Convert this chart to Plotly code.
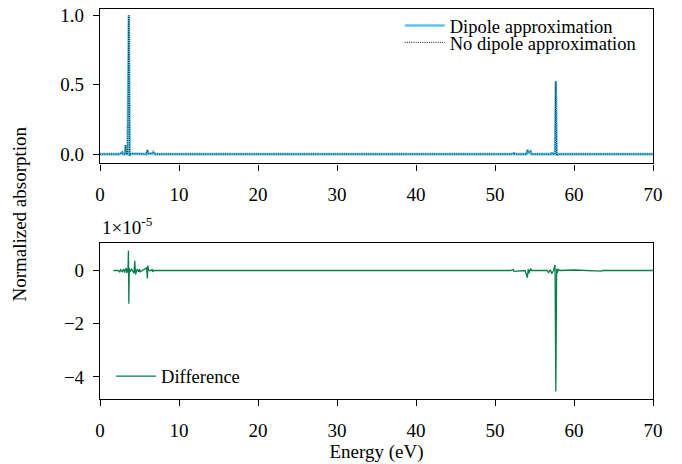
import plotly.graph_objects as go

# ---- data ----
energy_top = [0.0, 2.5, 2.8, 2.9, 3.15, 3.25, 3.35, 3.5, 3.65, 3.75, 3.85, 4.5, 5.0,
              5.9, 6.0, 6.1, 6.6, 6.75, 6.9, 52.3, 52.4, 52.5, 54.0, 54.1, 54.3,
              54.5, 54.6, 57.1, 57.2, 57.3, 57.6, 57.7, 57.8, 57.9, 70.0]
dipole = [0.0, 0.0, 0.015, 0.0, 0.0, 0.065, 0.0, 0.0, 1.0, -0.012, 0.004, 0.004, 0.002,
          0.0, 0.03, 0.004, 0.004, 0.015, 0.0, 0.0, 0.01, 0.0, 0.0, 0.03, 0.01,
          0.02, 0.0, 0.0, 0.01, 0.0, 0.0, 0.524, -0.01, 0.0, 0.0]
no_dipole = list(dipole)  # differs only at the 1e-5 level

energy_diff = [1.7, 2.3, 2.5, 2.6, 2.8, 3.0, 3.1, 3.3, 3.4, 3.55, 3.6, 3.65, 3.7, 3.8,
               4.0, 4.3, 4.4, 4.5, 4.7, 4.9, 5.0, 5.1, 5.9, 6.0, 6.05, 6.15, 6.5,
               6.6, 6.7, 6.8, 52.0, 52.3, 52.4, 53.8, 54.1, 54.2, 54.3, 54.5,
               54.6, 56.6, 56.8, 57.0, 57.2, 57.4, 57.6, 57.7, 57.8, 57.9, 58.0,
               58.2, 60.0, 63.5, 63.6, 70.0]
difference_1e5 = [0.0, 0.0, -0.05, 0.03, -0.04, 0.05, -0.08, 0.1, -0.1, 0.1, 0.75, -1.25,
                  0.1, -0.05, 0.05, -0.1, 0.37, -0.15, 0.05, -0.05, 0.05, -0.05, 0.1,
                  -0.3, 0.19, 0.0, 0.0, 0.05, -0.05, 0.0, 0.0, 0.04, -0.03, 0.0,
                  -0.27, 0.05, -0.1, 0.08, 0.0, 0.0, -0.08, 0.03, -0.12, 0.0, 0.21,
                  -4.55, 0.05, -0.1, 0.05, 0.0, 0.02, -0.02, 0.0, 0.0]

x_ticks = [0, 10, 20, 30, 40, 50, 60, 70]
top_ticks = [0.0, 0.5, 1.0]
top_tick_text = ["0.0", "0.5", "1.0"]
bottom_ticks = [0, -2, -4]

FONT = "Liberation Serif"
FS = 19
BLUE = "#5cc6f2"
GREEN = "#0a7d4c"

fig = go.Figure()
fig.add_trace(go.Scatter(x=energy_top, y=dipole, mode="lines", name="Dipole approximation",
                         line=dict(color=BLUE, width=2.6), xaxis="x", yaxis="y",
                         legend="legend"))
fig.add_trace(go.Scatter(x=energy_top, y=no_dipole, mode="lines", name="No dipole approximation",
                         line=dict(color="#111111", width=1, dash="1px,1.2px"), xaxis="x", yaxis="y",
                         legend="legend3"))
fig.add_trace(go.Scatter(x=energy_diff, y=difference_1e5, mode="lines", name="Difference",
                         line=dict(color=GREEN, width=1.3), xaxis="x2", yaxis="y2",
                         legend="legend2"))

axis_common = dict(showline=True, linecolor="black", linewidth=1.2, mirror=True,
                   ticks="outside", ticklen=6, tickwidth=1.2, tickcolor="black",
                   showgrid=False, zeroline=False, automargin=False,
                   ticklabeloverflow="allow",
                   tickfont=dict(family=FONT, size=FS, color="black"))
xax = dict(ticklabelstandoff=8, **axis_common)
yax = dict(ticklabelstandoff=5, **axis_common)

legend_common = dict(xanchor="left", yanchor="top", bgcolor="rgba(0,0,0,0)",
                     font=dict(family=FONT, size=18.5, color="black"), itemwidth=40)

fig.update_layout(
    width=682, height=464,
    margin=dict(l=92, r=37, t=1, b=73, autoexpand=False),
    paper_bgcolor="white", plot_bgcolor="white",
    font=dict(family=FONT, size=FS, color="black"),
    xaxis=dict(domain=[0, 1], range=[0, 70], tickvals=x_ticks, anchor="y", **xax),
    yaxis=dict(domain=[0.604, 1], range=[-0.067, 1.045], tickvals=top_ticks,
               ticktext=top_tick_text, anchor="x", **yax),
    xaxis2=dict(domain=[0, 1], range=[0, 70], tickvals=x_ticks, anchor="y2",
                title=dict(text="Energy (eV)", standoff=4,
                           font=dict(family=FONT, size=FS, color="black")), **xax),
    yaxis2=dict(domain=[0, 0.399], range=[-4.83, 1.02], tickvals=bottom_ticks,
                anchor="x2", **yax),
    legend=dict(x=0.542, y=1.0053, **legend_common),
    legend3=dict(x=0.542, y=0.962, **legend_common),
    legend2=dict(x=0.02, y=0.0085, **{**legend_common, "yanchor": "bottom"}),
    showlegend=True,
    annotations=[
        dict(text="Normalized absorption", textangle=-90, x=-0.145, y=0.475,
             xref="paper", yref="paper", xanchor="center", yanchor="middle",
             showarrow=False, font=dict(family=FONT, size=FS)),
        dict(text="1×10<sup>-5</sup>", x=0.0, y=0.443, xref="paper", yref="paper",
             xanchor="left", yanchor="middle", showarrow=False,
             font=dict(family=FONT, size=FS)),
    ],
)

fig.write_html("out.html")
